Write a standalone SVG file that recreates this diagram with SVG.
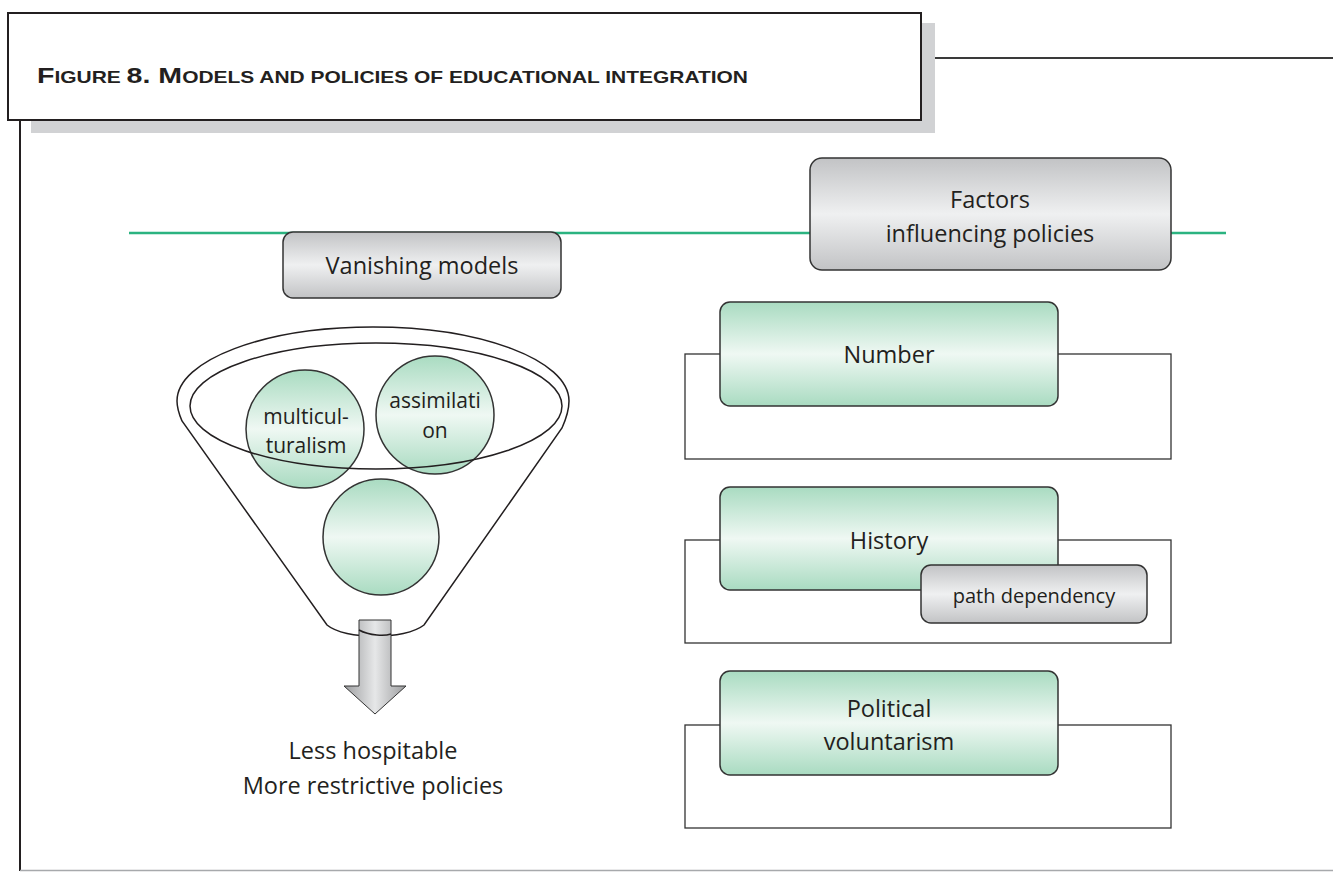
<svg xmlns="http://www.w3.org/2000/svg" width="1333" height="872" viewBox="0 0 1333 872">
<defs>
<linearGradient id="gGray" x1="0" y1="0" x2="0" y2="1">
<stop offset="0" stop-color="#c2c3c5"/><stop offset="0.5" stop-color="#eff0f1"/><stop offset="1" stop-color="#c2c3c5"/>
</linearGradient>
<linearGradient id="gGreen" x1="0" y1="0" x2="0" y2="1">
<stop offset="0" stop-color="#a9dbc1"/><stop offset="0.5" stop-color="#eff8f3"/><stop offset="1" stop-color="#a9dbc1"/>
</linearGradient>
<linearGradient id="gArrow" x1="0" y1="0" x2="1" y2="0">
<stop offset="0" stop-color="#9c9d9f"/><stop offset="0.5" stop-color="#e6e7e8"/><stop offset="1" stop-color="#9c9d9f"/>
</linearGradient>
<style>
.t{font-family:"Open Sans","Noto Sans","Liberation Sans",sans-serif;fill:#231f20;text-anchor:middle}
.gray{fill:url(#gGray);stroke:#333;stroke-width:1.5}
.green{fill:url(#gGreen);stroke:#333;stroke-width:1.5}
.outer{fill:#fff;stroke:#333;stroke-width:1.3}
.ln{fill:none;stroke:#231f20;stroke-width:1.5}
</style>
</defs>
<rect width="1333" height="872" fill="#fff"/>
<g id="frame">
<rect x="31" y="23" width="904" height="110" fill="#d1d2d4"/>
<rect x="8" y="13" width="913" height="107" fill="#fff" stroke="#231f20" stroke-width="2"/>
<line x1="935" y1="58" x2="1333" y2="58" stroke="#3a3a3a" stroke-width="2"/>
<line x1="20" y1="120" x2="20" y2="871" stroke="#231f20" stroke-width="2"/>
<line x1="20" y1="870.5" x2="1333" y2="870.5" stroke="#a7a9ac" stroke-width="1.5"/>
<text x="37" y="83" font-family="'Liberation Sans',sans-serif" font-weight="bold" fill="#231f20" textLength="711" lengthAdjust="spacingAndGlyphs"><tspan font-size="22.5">F</tspan><tspan font-size="16.5">IGURE </tspan><tspan font-size="22.5">8.  M</tspan><tspan font-size="16.5">ODELS AND POLICIES OF EDUCATIONAL INTEGRATION</tspan></text>
</g>
<g id="connectors">
<line x1="129" y1="233" x2="1226" y2="233" stroke="#2bb380" stroke-width="2.5"/>
</g>
<g id="vanishing">
<rect class="gray" x="283" y="232" width="278" height="66" rx="10"/>
<text class="t" x="422" y="274" font-size="23.5">Vanishing models</text>
</g>
<g id="factors">
<rect class="gray" x="810" y="158" width="361" height="112" rx="12"/>
<text class="t" x="990" y="208" font-size="23.5">Factors</text>
<text class="t" x="990" y="242" font-size="23.5">influencing policies</text>
</g>
<g id="funnel">
<path class="ln" d="M177,401 C177,360 265,327 373,327 C481,327 569,360 569,401 C569,411 566,419 562,428 L424,625 C405,640 345,640 327,625 L182,421 C179,414 177,408 177,401 Z"/>
</g>
<g id="multiculturalism">
<circle class="green" cx="305" cy="429" r="59"/>
<text class="t" x="306" y="424" font-size="21">multicul-</text>
<text class="t" x="306" y="453" font-size="21">turalism</text>
</g>
<g id="assimilation">
<circle class="green" cx="435" cy="415" r="59"/>
<text class="t" x="435" y="408" font-size="21">assimilati</text>
<text class="t" x="435" y="438" font-size="21">on</text>
</g>
<g id="circle3">
<circle class="green" cx="381" cy="537" r="58"/>
</g>
<g id="funnel-rim">
<ellipse class="ln" cx="376" cy="406" rx="186" ry="63"/>
</g>
<g id="arrow">
<path d="M359,620 L391,620 L391,686 L406,686 L375,714 L344,686 L359,686 Z" fill="url(#gArrow)" stroke="#333" stroke-width="1"/>
<path class="ln" d="M359,630 C370,636 385,636 391,634" stroke-width="1.3"/>
</g>
<g id="result">
<text class="t" x="373" y="759" font-size="23.5">Less hospitable</text>
<text class="t" x="373" y="794" font-size="23.5">More restrictive policies</text>
</g>
<g id="number">
<rect class="outer" x="685" y="354" width="486" height="105"/>
<rect class="green" x="720" y="302" width="338" height="104" rx="10"/>
<text class="t" x="889" y="363" font-size="23.5">Number</text>
</g>
<g id="history">
<rect class="outer" x="685" y="540" width="486" height="103"/>
<rect class="green" x="720" y="487" width="338" height="103" rx="10"/>
<text class="t" x="889" y="549" font-size="23.5">History</text>
</g>
<g id="path-dependency">
<rect class="gray" x="921" y="565" width="226" height="58" rx="10"/>
<text class="t" x="1034" y="603" font-size="20">path dependency</text>
</g>
<g id="political">
<rect class="outer" x="685" y="725" width="486" height="103"/>
<rect class="green" x="720" y="671" width="338" height="104" rx="10"/>
<text class="t" x="889" y="717" font-size="23.5">Political</text>
<text class="t" x="889" y="750" font-size="23.5">voluntarism</text>
</g>
</svg>
